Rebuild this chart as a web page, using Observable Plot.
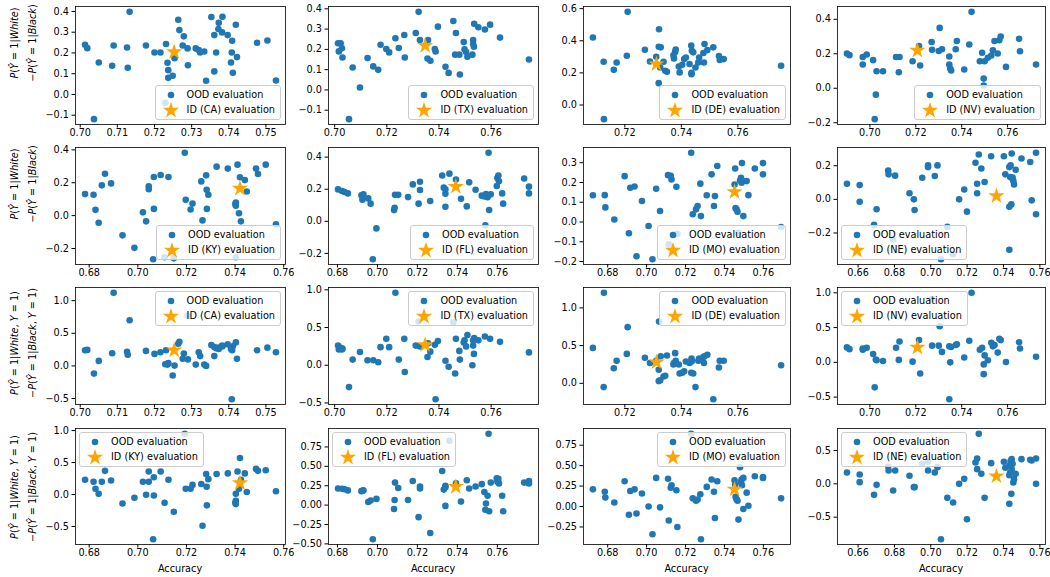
<!DOCTYPE html>
<html><head><meta charset="utf-8">
<script src="https://cdn.jsdelivr.net/npm/d3@7"></script>
<script src="https://cdn.jsdelivr.net/npm/@observablehq/plot@0.6"></script>
<style>
body{margin:0;background:#fff;}
#fig{position:relative;width:1050px;height:577px;overflow:hidden;font-family:"DejaVu Sans",sans-serif;color:#000;}
.ylab{position:absolute;white-space:nowrap;font-size:9.7px;line-height:1;transform:translate(-50%,-50%) rotate(-90deg);}
.xlab{position:absolute;white-space:nowrap;font-size:9.7px;line-height:1;transform:translate(-50%,-50%);}
.leg{position:absolute;border:1px solid #ccc;border-radius:3px;background:rgba(255,255,255,0.8);font-size:9.7px;padding:2px 5px 2px 0;line-height:1;}
.leg .row{display:flex;align-items:center;height:14.5px;white-space:nowrap;}
.leg svg{display:block;flex:none;}
</style></head><body><div id="fig"></div>
<script>
// rows: [accuracy, P(Ŷ=1|White)-P(Ŷ=1|Black), P(Ŷ=1|White,Y=1)-P(Ŷ=1|Black,Y=1)]
const CA = [[0.7013,0.239,0.24],[0.7019,0.223,0.245],[0.7050,0.154,0.077],[0.7037,-0.119,-0.118],[0.7090,0.236,1.12],[0.7086,0.138,0.195],[0.7126,0.226,0.215],[0.7128,0.129,0.17],[0.7133,0.398,0.70],[0.7177,0.236,0.23],[0.7200,0.202,0.184],[0.7216,0.202,0.21],[0.7231,0.243,0.24],[0.7235,0.153,0.02],[0.7237,0.117,0.036],[0.7237,0.080,0.045],[0.7249,0.090,-0.148],[0.7254,0.175,0.005],[0.7229,-0.040,0.025],[0.7264,0.360,0.34],[0.7267,0.310,0.37],[0.7279,0.280,0.19],[0.7276,0.236,0.11],[0.7289,0.222,0.77],[0.7290,0.141,0.10],[0.7311,0.222,0.02],[0.7319,0.214,0.21],[0.7323,0.202,0.15],[0.7334,0.207,0.02],[0.7339,0.066,0.0],[0.7353,0.373,0.32],[0.7361,0.286,0.29],[0.7366,0.202,0.27],[0.7361,0.111,0.15],[0.7373,0.345,0.26],[0.7383,0.374,0.30],[0.7372,0.315,0.28],[0.7382,0.299,0.31],[0.7397,0.286,0.33],[0.7409,0.259,0.24],[0.7408,0.202,-0.51],[0.7406,0.154,0.26],[0.7411,0.104,0.30],[0.7419,0.336,0.36],[0.7422,0.180,0.11],[0.7476,0.249,0.24],[0.7504,0.260,0.28],[0.7527,0.067,0.21]];
const TX = [[0.7013,0.230,0.26],[0.7023,0.230,0.23],[0.7016,0.190,0.21],[0.7028,0.205,0.21],[0.7030,0.160,0.22],[0.7069,0.111,0.075],[0.7097,0.012,0.175],[0.7055,-0.144,-0.29],[0.7126,0.157,0.066],[0.7148,0.116,0.066],[0.7167,0.099,0.04],[0.7176,0.223,0.24],[0.7198,0.202,0.35],[0.7209,0.185,0.24],[0.7233,0.255,0.96],[0.7246,0.207,0.075],[0.7267,0.271,0.35],[0.7269,0.160,-0.09],[0.7311,0.281,0.26],[0.7322,0.385,0.58],[0.7327,0.246,0.25],[0.7358,0.246,0.29],[0.7356,0.155,0.11],[0.7367,0.144,0.18],[0.7396,0.312,0.32],[0.7384,0.202,0.27],[0.7387,0.190,-0.45],[0.7425,0.114,0.06],[0.7437,0.084,-0.02],[0.7455,0.340,0.57],[0.7465,0.281,0.35],[0.7462,0.174,-0.11],[0.7478,0.174,0.19],[0.7495,0.236,0.30],[0.7498,0.200,0.33],[0.7504,0.187,0.25],[0.7509,0.164,0.40],[0.7480,0.076,0.075],[0.7531,0.246,0.33],[0.7531,0.226,0.26],[0.7534,0.213,0.15],[0.7528,0.174,0.0],[0.7535,0.326,0.36],[0.7551,0.309,0.33],[0.7576,0.298,0.38],[0.7596,0.322,0.35],[0.7634,0.258,0.31],[0.7745,0.150,0.17]];
const DE = [[0.7087,0.420,0.47],[0.7125,0.269,-0.05],[0.7126,-0.088,1.20],[0.7161,0.219,0.20],[0.7171,0.265,0.30],[0.7207,0.307,0.39],[0.7210,0.580,0.745],[0.7271,0.344,0.34],[0.7289,0.271,0.27],[0.7311,0.300,0.30],[0.7321,0.472,0.82],[0.7320,0.363,0.18],[0.7327,0.359,0.36],[0.7320,0.136,0.03],[0.7325,0.234,0.04],[0.7337,0.269,0.09],[0.7343,0.213,0.10],[0.7349,0.207,0.37],[0.7372,0.310,0.25],[0.7378,0.330,0.40],[0.7380,0.345,0.30],[0.7374,0.290,0.27],[0.7391,0.240,0.25],[0.7394,0.203,0.13],[0.7403,0.250,0.14],[0.7410,0.286,0.16],[0.7416,0.296,0.29],[0.7429,0.255,0.27],[0.7435,0.370,0.14],[0.7437,0.338,0.30],[0.7436,0.200,0.33],[0.7436,0.192,0.29],[0.7442,0.328,0.13],[0.7450,0.234,-0.05],[0.7460,0.265,0.30],[0.7463,0.296,0.33],[0.7480,0.265,0.27],[0.7482,0.380,0.36],[0.7478,0.324,0.35],[0.7492,0.342,0.38],[0.7513,0.359,-0.21],[0.7533,0.305,0.21],[0.7536,0.280,0.30],[0.7550,0.286,0.30],[0.7753,0.244,0.24]];
const NV = [[0.6900,0.202,0.215],[0.6911,0.192,0.19],[0.6969,0.181,0.20],[0.6986,0.196,0.21],[0.6969,0.138,0.18],[0.7014,0.163,0.12],[0.7029,0.099,0.03],[0.7057,0.099,0.02],[0.7026,-0.037,0.04],[0.7021,-0.179,-0.36],[0.7114,0.181,0.21],[0.7129,0.181,0.30],[0.7126,0.093,0.035],[0.7186,0.157,0.01],[0.7219,0.132,-0.16],[0.7214,0.245,0.32],[0.7269,0.268,0.91],[0.7271,0.223,0.24],[0.7300,0.216,0.24],[0.7304,0.350,0.52],[0.7314,0.226,0.15],[0.7346,0.184,0.23],[0.7346,0.138,-0.53],[0.7350,0.115,0.0],[0.7354,0.103,0.22],[0.7374,0.226,0.25],[0.7379,0.274,0.26],[0.7411,0.109,0.07],[0.7433,0.254,0.31],[0.7443,0.443,1.0],[0.7479,0.157,0.18],[0.7489,0.206,0.21],[0.7496,0.056,-0.17],[0.7496,0.016,-0.03],[0.7500,0.157,0.10],[0.7514,0.177,0.03],[0.7529,0.190,0.28],[0.7536,0.220,0.23],[0.7543,0.274,0.25],[0.7557,0.202,0.14],[0.7564,0.278,0.34],[0.7570,0.300,0.32],[0.7593,0.124,0.005],[0.7650,0.287,0.29],[0.7654,0.215,0.20],[0.7724,0.138,0.08]];
const KY = [[0.6783,0.131,0.23],[0.6818,0.127,0.20],[0.6826,0.035,0.09],[0.6839,-0.043,0.01],[0.6852,0.184,0.20],[0.6865,0.255,0.37],[0.6890,0.196,0.22],[0.6937,-0.120,-0.14],[0.6986,-0.196,-0.05],[0.7021,0.020,0.20],[0.7034,-0.035,-0.005],[0.7045,0.178,0.36],[0.7045,0.161,0.20],[0.7066,0.041,-0.015],[0.7066,0.235,0.27],[0.7063,-0.265,-0.70],[0.7094,0.247,0.36],[0.7110,-0.253,-0.13],[0.7148,-0.26,-0.27],[0.7126,0.235,0.23],[0.7193,0.382,0.95],[0.7197,0.096,0.09],[0.7225,0.073,0.15],[0.7217,0.037,0.09],[0.7261,0.208,0.165],[0.7266,-0.029,-0.49],[0.7281,0.245,0.32],[0.7283,0.157,0.12],[0.7290,0.127,0.24],[0.7284,0.041,-0.17],[0.7324,0.298,0.32],[0.7370,0.286,0.33],[0.7403,0.080,0.01],[0.7403,0.060,-0.10],[0.7401,0.070,-0.13],[0.7410,0.310,0.36],[0.7416,0.014,0.09],[0.7420,0.233,0.57],[0.7424,-0.035,0.23],[0.7440,0.216,0.33],[0.7448,0.147,0.04],[0.7403,-0.253,-0.15],[0.7486,0.286,0.40],[0.7494,0.253,0.37],[0.7526,0.310,0.38],[0.7568,-0.053,0.05]];
const FL = [[0.6803,0.199,0.215],[0.6823,0.189,0.21],[0.6836,0.183,0.205],[0.6852,0.174,0.19],[0.6920,0.162,0.18],[0.6925,0.135,0.185],[0.6930,0.168,0.19],[0.6954,0.143,0.04],[0.6966,0.110,0.06],[0.6977,-0.236,-0.44],[0.6995,-0.044,0.08],[0.7083,0.070,-0.05],[0.7086,0.085,0.065],[0.7088,0.165,0.29],[0.7104,0.165,0.22],[0.7153,0.151,0.065],[0.7177,0.230,0.31],[0.7213,0.247,0.24],[0.7213,0.195,0.215],[0.7206,0.110,-0.155],[0.7264,0.127,-0.36],[0.7324,0.286,0.44],[0.7332,0.210,0.20],[0.7340,0.199,0.23],[0.7340,0.172,0.25],[0.7340,0.091,-0.01],[0.7360,0.297,0.83],[0.7393,0.261,0.28],[0.7418,0.141,0.045],[0.7447,0.093,0.32],[0.7459,0.243,0.215],[0.7491,0.197,0.24],[0.7522,0.160,0.27],[0.7535,0.155,0.17],[0.7543,0.170,0.02],[0.7551,0.150,0.12],[0.7567,0.168,0.29],[0.7540,-0.025,-0.06],[0.7556,0.427,0.92],[0.7559,0.071,-0.08],[0.7600,0.270,0.30],[0.7605,0.286,0.34],[0.7608,0.250,0.28],[0.7597,0.220,0.345],[0.7624,0.174,0.12],[0.7629,0.110,-0.08],[0.7734,0.267,0.29],[0.7758,0.216,0.31],[0.7758,0.174,0.28]];
const MO = [[0.6724,0.135,0.21],[0.6785,0.136,0.18],[0.6788,0.074,0.11],[0.6834,0.013,0.05],[0.6887,0.232,0.31],[0.6909,-0.057,-0.10],[0.6916,0.173,0.19],[0.6938,0.180,0.21],[0.6948,-0.173,-0.085],[0.6976,0.106,0.16],[0.7010,-0.020,0.0],[0.7030,-0.188,-0.34],[0.7069,0.056,-0.01],[0.7049,0.168,0.35],[0.7110,0.237,0.34],[0.7114,-0.113,-0.17],[0.7124,0.234,0.23],[0.7128,0.215,0.26],[0.7153,0.178,0.20],[0.7158,-0.060,-0.25],[0.7229,0.350,0.89],[0.7237,0.039,0.10],[0.7254,0.064,0.07],[0.7262,0.081,0.085],[0.7276,0.194,0.15],[0.7279,0.030,-0.40],[0.7309,0.135,0.24],[0.7334,0.241,0.33],[0.7346,0.081,0.18],[0.7351,0.131,-0.14],[0.7363,0.283,0.31],[0.7452,0.190,0.32],[0.7455,0.271,0.27],[0.7457,0.070,0.12],[0.7462,0.064,0.09],[0.7467,0.052,0.07],[0.7472,-0.054,-0.16],[0.7480,0.210,0.48],[0.7485,0.224,0.30],[0.7488,0.199,0.33],[0.7497,0.207,0.35],[0.7490,0.298,0.26],[0.7497,0.030,-0.03],[0.7514,0.207,0.17],[0.7523,0.136,0.01],[0.7556,0.271,0.37],[0.7598,0.298,0.35],[0.7598,0.241,0.36],[0.7691,-0.025,0.10]];
const NE = [[0.6539,0.093,0.17],[0.6609,0.085,0.14],[0.6609,-0.014,0.025],[0.6702,-0.059,-0.015],[0.6688,-0.152,-0.165],[0.6766,0.172,0.26],[0.6768,0.149,0.20],[0.6804,0.141,0.20],[0.6793,-0.240,-0.10],[0.6883,0.036,0.12],[0.6907,0.000,-0.05],[0.6911,-0.063,-0.05],[0.6953,0.129,0.30],[0.6985,0.202,0.33],[0.6985,0.192,0.20],[0.7022,0.139,0.17],[0.7037,0.202,0.25],[0.7056,-0.356,-0.83],[0.7091,-0.164,-0.21],[0.7123,-0.327,-0.28],[0.7156,0.000,0.00],[0.7184,0.059,0.075],[0.7199,-0.073,-0.53],[0.7246,0.218,0.32],[0.7264,0.267,0.75],[0.7255,0.093,0.38],[0.7255,0.036,0.22],[0.7278,0.184,0.15],[0.7296,0.103,-0.21],[0.7332,0.257,0.31],[0.7402,0.257,0.33],[0.7410,0.149,0.24],[0.7432,0.192,0.27],[0.7437,0.133,0.17],[0.7445,0.129,0.22],[0.7439,0.202,0.34],[0.7432,-0.044,0.13],[0.7443,-0.030,-0.15],[0.7432,-0.300,-0.30],[0.7445,0.273,0.37],[0.7450,0.130,0.30],[0.7454,0.109,0.02],[0.7458,0.089,0.07],[0.7467,0.176,0.15],[0.7499,0.243,0.37],[0.7547,0.222,0.36],[0.7555,-0.006,0.35],[0.7579,0.277,0.38],[0.7579,-0.089,0.00]];

// in-distribution evaluation (star): [accuracy, dp gap, eo gap]
const starCA = [0.7253,0.205,0.24];
const starTX = [0.7347,0.218,0.27];
const starDE = [0.7312,0.255,0.28];
const starNV = [0.7207,0.219,0.215];
const starKY = [0.7420,0.165,0.18];
const starFL = [0.7392,0.216,0.237];
const starMO = [0.7452,0.152,0.21];
const starNE = [0.7361,0.020,0.114];

// tick values
const xtCA = [0.70,0.71,0.72,0.73,0.74,0.75];
const xtTX = [0.70,0.72,0.74,0.76];
const xtDE = [0.72,0.74,0.76];
const xtNV = [0.70,0.72,0.74,0.76];
const xtKY = [0.68,0.70,0.72,0.74,0.76];
const xtFL = [0.68,0.70,0.72,0.74,0.76];
const xtMO = [0.68,0.70,0.72,0.74,0.76];
const xtNE = [0.66,0.68,0.70,0.72,0.74,0.76];
const ytRow1 = [[-0.1,0,0.1,0.2,0.3,0.4],[-0.1,0,0.1,0.2,0.3,0.4],[0,0.2,0.4,0.6],[-0.2,0,0.2,0.4]];
const ytRow2 = [[-0.2,0,0.2,0.4],[-0.2,0,0.2,0.4],[-0.2,-0.1,0,0.1,0.2,0.3],[-0.2,0,0.2]];
const ytRow3 = [[-0.5,0,0.5,1.0],[-0.5,0,0.5,1.0],[0,0.5,1.0],[-0.5,0,0.5,1.0]];
const ytRow4 = [[-0.5,0,0.5,1.0],[-0.5,-0.25,0,0.25,0.5,0.75],[-0.25,0,0.25,0.5,0.75],[-0.5,0,0.5]];

const rowStates = [["CA","TX","DE","NV"],["KY","FL","MO","NE"],["CA","TX","DE","NV"],["KY","FL","MO","NE"]];
const rowMetric = [1,1,2,2];
const rowLegend = [["lr","lr","lr","lr"],["lr","lr","lr","ll"],["ur","ur","ur","ul"],["ul","ul","ur","ul"]];

const data = {CA, TX, DE, NV, KY, FL, MO, NE};
const stars = {CA: starCA, TX: starTX, DE: starDE, NV: starNV, KY: starKY, FL: starFL, MO: starMO, NE: starNE};
const xticks = {CA: xtCA, TX: xtTX, DE: xtDE, NV: xtNV, KY: xtKY, FL: xtFL, MO: xtMO, NE: xtNE};
const yticks = [ytRow1, ytRow2, ytRow3, ytRow4];

// layout
const colLeft = [75, 328, 583, 837], colW = [210, 210, 207, 208];
const rowTop = [6, 147, 287, 428], rowH = [118, 117, 117, 116];
const ML = 45, MR = 3, MT = 3, MB = 22;
const BLUE = "#1f77b4", ORANGE = "orange";
const fig = document.getElementById("fig");

function decimals(t) {
  for (let d = 0; d < 4; d++) if (t.every(v => Math.abs(Math.round(v * 10 ** d) - v * 10 ** d) < 1e-6)) return d;
  return 3;
}
function fmt(t) { const d = decimals(t); return v => v.toFixed(d).replace("-", "\u2212"); }
function pad([a, b]) { const m = (b - a) * 0.05; return [a - m, b + m]; }

function legend(state, loc, left, top, W, H) {
  const el = document.createElement("div");
  el.className = "leg";
  const inset = 4;
  if (loc[1] === "r") el.style.right = (1050 - (left + W) + inset) + "px"; else el.style.left = (left + inset) + "px";
  if (loc[0] === "l") el.style.bottom = (577 - (top + H) + inset) + "px"; else el.style.top = (top + inset) + "px";
  const starPath = d3.symbol(d3.symbolStar, 5.1 * 5.1 * Math.PI)();
  el.innerHTML =
    `<div class="row"><svg width="31" height="14"><circle cx="15" cy="7" r="3.3" fill="${BLUE}"/></svg><span>OOD evaluation</span></div>` +
    `<div class="row"><svg width="31" height="14" style="overflow:visible"><path transform="translate(15,7.5)" d="${starPath}" fill="${ORANGE}"/></svg><span>ID (${state}) evaluation</span></div>`;
  fig.appendChild(el);
}

for (let r = 0; r < 4; r++) {
  for (let c = 0; c < 4; c++) {
    const st = rowStates[r][c], m = rowMetric[r];
    const pts = data[st], star = stars[st];
    const W = colW[c], H = rowH[r];
    const xt = xticks[st], yt = yticks[r][c];
    const xd = pad(d3.extent([...pts.map(p => p[0]), star[0]]));
    const yd = pad(d3.extent([...pts.map(p => p[m]), star[m]]));
    const svg = Plot.plot({
      width: ML + W + MR, height: MT + H + MB,
      marginLeft: ML, marginRight: MR, marginTop: MT, marginBottom: MB,
      style: {fontFamily: "DejaVu Sans", fontSize: "9.7px", background: "transparent", overflow: "visible", color: "#000"},
      x: {domain: xd},
      y: {domain: yd},
      marks: [
        Plot.dot(pts, {x: d => d[0], y: d => d[m], r: 3.3, fill: BLUE}),
        Plot.dot([star], {x: d => d[0], y: d => d[m], r: 5.1, symbol: "star", fill: ORANGE}),
        Plot.frame({stroke: "#000", strokeWidth: 0.8}),
        Plot.axisX({ticks: xt, tickFormat: fmt(xt), tickSize: 3.5, tickPadding: 1, label: null}),
        Plot.axisY({ticks: yt, tickFormat: fmt(yt), tickSize: 3.5, tickPadding: 3, label: null})
      ]
    });
    svg.style.position = "absolute";
    svg.style.left = (colLeft[c] - ML) + "px";
    svg.style.top = (rowTop[r] - MT) + "px";
    svg.style.maxWidth = "none";
    fig.appendChild(svg);
    legend(st, rowLegend[r][c], colLeft[c], rowTop[r], W, H);
    if (r === 3) {
      const xl = document.createElement("div");
      xl.className = "xlab";
      xl.textContent = "Accuracy";
      xl.style.left = (colLeft[c] + W / 2) + "px";
      xl.style.top = "569px";
      fig.appendChild(xl);
    }
  }
}

// y labels
const ylabs = [
  ["<i>P</i>(<i>Ŷ</i> = 1|<i>White</i>)", "\u2212<i>P</i>(<i>Ŷ</i> = 1|<i>Black</i>)", 43],
  ["<i>P</i>(<i>Ŷ</i> = 1|<i>White</i>)", "\u2212<i>P</i>(<i>Ŷ</i> = 1|<i>Black</i>)", 184],
  ["<i>P</i>(<i>Ŷ</i> = 1|<i>White</i>, <i>Y</i> = 1)", "\u2212<i>P</i>(<i>Ŷ</i> = 1|<i>Black</i>, <i>Y</i> = 1)", 343],
  ["<i>P</i>(<i>Ŷ</i> = 1|<i>White</i>, <i>Y</i> = 1)", "\u2212<i>P</i>(<i>Ŷ</i> = 1|<i>Black</i>, <i>Y</i> = 1)", 487]
];
for (const [l1, l2, cy] of ylabs) {
  [[l1, 15], [l2, 33]].forEach(([html, cx]) => {
    const d = document.createElement("div");
    d.className = "ylab";
    d.innerHTML = html;
    d.style.left = cx + "px";
    d.style.top = cy + "px";
    fig.appendChild(d);
  });
}
</script></body></html>
